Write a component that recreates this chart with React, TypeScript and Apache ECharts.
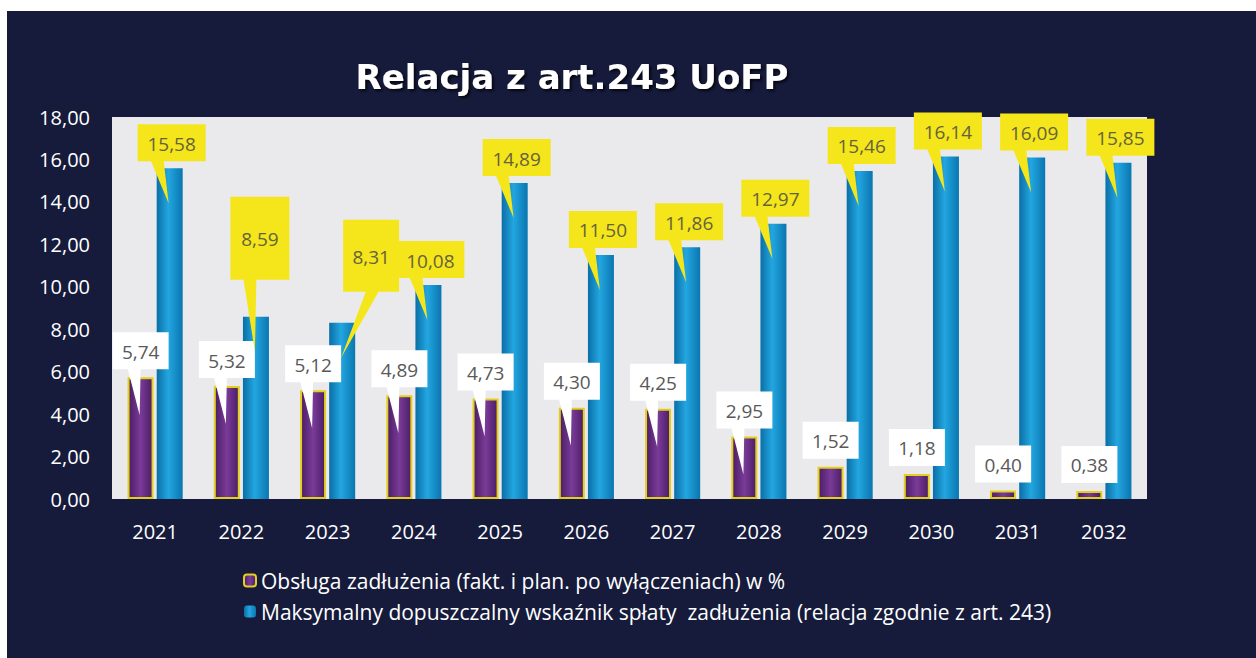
import React, { useEffect, useRef } from "react";
import * as echarts from "echarts";

const years = ["2021", "2022", "2023", "2024", "2025", "2026", "2027", "2028", "2029", "2030", "2031", "2032"];
const debtService = [5.74, 5.32, 5.12, 4.89, 4.73, 4.3, 4.25, 2.95, 1.52, 1.18, 0.4, 0.38];
const maxRatio = [15.58, 8.59, 8.31, 10.08, 14.89, 11.5, 11.86, 12.97, 15.46, 16.14, 16.09, 15.85];
const seriesNames = [
  "Obsługa zadłużenia (fakt. i plan. po wyłączeniach) w %",
  "Maksymalny dopuszczalny wskaźnik spłaty  zadłużenia (relacja zgodnie z art. 243)",
];
const titleText = "Relacja z art.243 UoFP";

// layout tweaks for hand-placed callouts in the original (index -> geometry adjustments)
const yellowCalloutAdjust: Record<number, { dx: number; dy: number; h: number; w?: number; baseDx?: number }> = {
  1: { dx: 2, dy: -30, h: 83, w: 59 },
  2: { dx: 27, dy: -24, h: 72, w: 56, baseDx: 10 },
};

const fmt = (v: number) => v.toFixed(2).replace(".", ",");
const FONT = '"Open Sans", "Noto Sans", sans-serif';

function makeCallout(kind: "white" | "yellow") {
  return (params: any, api: any) => {
    const i = api.value(0);
    const v = api.value(1);
    const pt = api.coord([i, v]);
    const cx = pt[0] + (kind === "white" ? -14.5 : 14.5);
    const y = pt[1];
    const adj = kind === "yellow" ? yellowCalloutAdjust[i] : undefined;
    const w = adj?.w ?? (kind === "white" ? 56 : 68);
    const h = adj?.h ?? 37;
    const gap = kind === "white" ? 8 : 7;
    const bottom = y - gap + (adj?.dy ?? 0);
    const bx = cx - w / 2 + (adj?.dx ?? 0) + (kind === "yellow" ? 2 : 0);
    const top = bottom - h;
    const tipY = y + (kind === "white" ? 38 : 35);
    const fill = kind === "white" ? "#ffffff" : "#f4e61a";
    const b0 = (kind === "white" ? 15 : 13) + (adj?.baseDx ?? 0);
    const children: any[] = [];
    if (kind === "yellow" || v > 2) {
      children.push({
        type: "polygon",
        shape: { points: [[bx + b0, bottom - 1], [bx + b0 + 13, bottom - 1], [cx - 1, tipY]] },
        style: { fill },
      });
    }
    children.push({
      type: "rect",
      shape: { x: bx, y: top, width: w, height: h },
      style: { fill },
    });
    children.push({
      type: "text",
      x: bx + w / 2,
      y: top + h / 2 + 1,
      style: {
        text: fmt(v),
        align: "center",
        verticalAlign: "middle",
        fill: kind === "white" ? "#595959" : "#66623e",
        fontSize: 19,
        fontFamily: FONT,
      },
    });
    return { type: "group", children };
  };
}

export default function App() {
  const ref = useRef<HTMLDivElement>(null);
  useEffect(() => {
    if (!ref.current) return;
    const chart = echarts.init(ref.current, null, { renderer: "svg" });
    const purple = new echarts.graphic.LinearGradient(0, 0, 1, 0, [
      { offset: 0, color: "#4a1d66" },
      { offset: 0.5, color: "#7a3b98" },
      { offset: 1, color: "#4a1d66" },
    ]);
    const blue = new echarts.graphic.LinearGradient(0, 0, 1, 0, [
      { offset: 0, color: "#0a6ea6" },
      { offset: 0.45, color: "#23a6e0" },
      { offset: 1, color: "#0a76b0" },
    ]);
    chart.setOption({
      animation: false,
      backgroundColor: "#161b3c",
      graphic: [
        { type: "rect", left: 0, top: 0, shape: { width: 1256, height: 11 }, style: { fill: "#ffffff" } },
        { type: "rect", left: 0, top: 0, shape: { width: 7, height: 658 }, style: { fill: "#ffffff" } },
        {
          type: "text",
          x: 572,
          y: 77,
          style: {
            text: titleText,
            align: "center",
            verticalAlign: "middle",
            fill: "#ffffff",
            fontSize: 34,
            fontWeight: "bold",
            fontFamily: '"DejaVu Sans", sans-serif',
            textShadowColor: "rgba(0,0,0,0.8)",
            textShadowBlur: 3,
            textShadowOffsetX: 2,
            textShadowOffsetY: 2,
          },
        },
      ],
      grid: {
        left: 112,
        right: 109,
        top: 117,
        bottom: 159,
        show: true,
        backgroundColor: "#eaeaec",
        borderWidth: 0,
      },
      legend: {
        data: seriesNames,
        orient: "vertical",
        left: 238,
        top: 565,
        itemWidth: 12,
        itemHeight: 12,
        itemGap: 10,
        textStyle: { color: "#ffffff", fontSize: 21, fontFamily: FONT },
      },
      xAxis: {
        type: "category",
        data: years,
        axisLine: { show: false },
        axisTick: { show: false },
        axisLabel: { color: "#ffffff", fontSize: 20, fontFamily: FONT, margin: 22 },
      },
      yAxis: {
        type: "value",
        min: 0,
        max: 18,
        interval: 2,
        axisLine: { show: false },
        axisTick: { show: false },
        splitLine: { show: false },
        axisLabel: {
          color: "#ffffff",
          fontSize: 20,
          fontFamily: FONT,
          margin: 22,
          formatter: (v: number) => fmt(v),
        },
      },
      series: [
        {
          name: seriesNames[0],
          type: "bar",
          data: debtService,
          barWidth: 26,
          barGap: "12%",
          itemStyle: { color: purple, borderColor: "#e3d01e", borderWidth: 2 },
        },
        {
          name: seriesNames[1],
          type: "bar",
          data: maxRatio,
          barWidth: 26,
          barGap: "12%",
          itemStyle: { color: blue },
        },
        {
          type: "custom",
          data: debtService.map((v, i) => [i, v]),
          renderItem: makeCallout("white"),
          clip: false,
          z: 5,
          silent: true,
        },
        {
          type: "custom",
          data: maxRatio.map((v, i) => [i, v]),
          renderItem: makeCallout("yellow"),
          clip: false,
          z: 6,
          silent: true,
        },
      ],
    });
    return () => chart.dispose();
  }, []);
  return <div ref={ref} style={{ position: "absolute", left: 0, top: 0, width: 1256, height: 658 }} />;
}
